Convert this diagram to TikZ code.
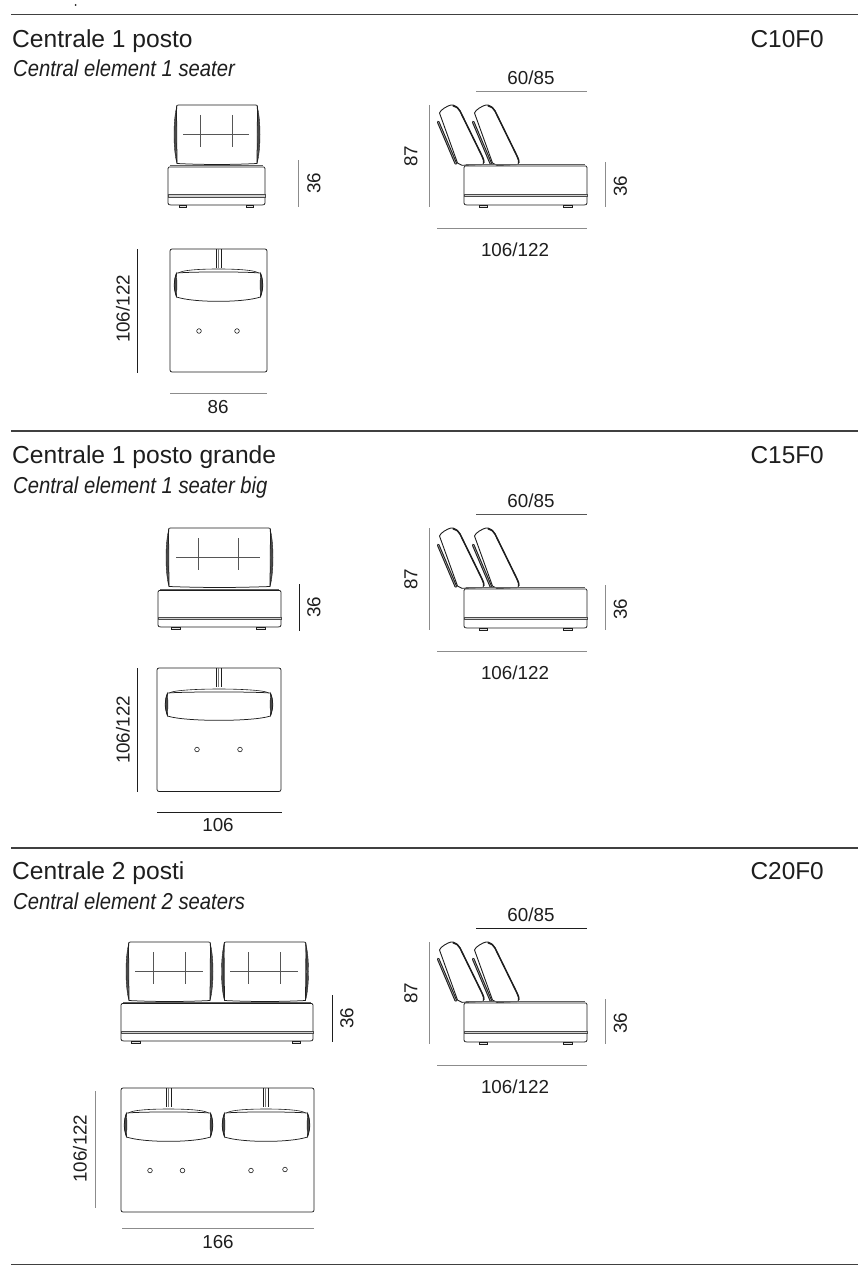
\documentclass[tikz,border=0pt]{standalone}
\usepackage{fontspec}
\setmainfont{Liberation Sans}
\definecolor{ink}{HTML}{1E1E1E}
\definecolor{dimlight}{HTML}{8C8C8C}
\definecolor{dimmid}{HTML}{555555}
\definecolor{lobe}{HTML}{4A4A4A}
\tikzset{
  outline/.style={draw=ink,line width=0.75pt,line join=round},
  thinline/.style={draw=ink,line width=0.45pt},
  tuftline/.style={draw=ink!75,line width=0.55pt},
  rule/.style={draw=ink!85,line width=1.3pt},
  dimline/.style={draw=dimlight,line width=0.7pt},
  dimdark/.style={draw=ink,line width=0.8pt},
  seatband/.style={draw=ink!80,line width=0.45pt,fill=black!18},
  lobefill/.style={draw=ink,line width=0.4pt,fill=lobe},
  num/.style={text=ink,inner sep=0pt,font=\fontsize{18.8}{22}\selectfont},
  numv/.style={num,rotate=90},
  title/.style={text=ink,inner sep=0pt,anchor=base west,font=\fontsize{24.6}{28}\selectfont},
  subtitle/.style={text=ink,inner sep=0pt,anchor=base west,xscale=0.88,font=\fontsize{23}{27}\itshape\selectfont},
  code/.style={text=ink,inner sep=0pt,anchor=base east,font=\fontsize{24.4}{28}\selectfont},
}
\newcommand\frontcushion[7]{%
  \begin{scope}[shift={(#1,#2)}]
    \path[lobefill] (2,0.8) .. controls (-2,14) and (-2,#4-14) .. (2,#4-0.5)
       .. controls (1,#4-14) and (1,14) .. cycle;
    \path[lobefill] (#3-2,0.8) .. controls (#3+2,14) and (#3+2,#4-14) .. (#3-2,#4-0.5)
       .. controls (#3-1,#4-14) and (#3-1,14) .. cycle;
    \draw[outline] (2,#4-0.5) -- (1.5,2) .. controls (1.5,0.5) and (2,0) .. (3.5,0)
       -- (#3-3.5,0) .. controls (#3-2,0) and (#3-1.5,0.5) .. (#3-1.5,2) -- (#3-2,#4-0.5)
       .. controls (#3/2+15,#4+0.8) and (#3/2-15,#4+0.8) .. cycle;
    \draw[tuftline] (#5,10) -- (#5,42) (#6,10) -- (#6,42)
       (#5-#7,29.5) -- (#6+#7,29.5);
  \end{scope}}
\newcommand\frontseat[5]{%
  \draw[outline] (#1+1,#3+1.5) -- (#2-1,#3+1.5) -- (#2,#3+3) -- (#2,#4-2) .. controls (#2,#4-0.5) and (#2-1,#4) .. (#2-3,#4)
     -- (#1+3,#4) .. controls (#1+1,#4) and (#1,#4-0.5) .. (#1,#4-2) -- (#1,#3+3) -- cycle;
  \path[seatband] (#1,#5) rectangle (#2,#5+2.6);
  \draw[thinline,draw=ink!70] (#1+2,#3) -- (#2-2,#3);}
\newcommand\seatfoot[3]{%
  \draw[thinline,fill=black!10] (#1,#3) rectangle (#2,#3+2.6);}
\newcommand\sideview[3]{%
  \begin{scope}[shift={(0,#1)}]
    \foreach \dx in {0,35}{
      \begin{scope}[shift={(\dx,0)}]
        \draw[draw=ink,line width=2.6pt,line cap=round] (438.2,122) -- (455.8,163.5);
        \draw[draw=white!70!black,line width=0.5pt,line cap=round] (438.2,122) -- (455.8,163.5);
        \path[draw=ink,fill=white,line width=0.9pt,line join=round] (439.5,113) .. controls (440,110) and (448,105.5) .. (451,105)
          .. controls (454,104.5) and (458,107) .. (460,111)
          -- (482,156) .. controls (484,160) and (484.5,163) .. (483,164.5)
          -- (462,165.3) -- (457.5,163) -- cycle;
        \draw[draw=ink,line width=1.5pt] (453,105.8) .. controls (456,106.2) and (458.5,108) .. (460,111) -- (482,156) .. controls (483.5,159) and (484,161) .. (483.8,163);
      \end{scope}}
    \frontseat{464}{587}{164.5}{205}{194}
    \seatfoot{479}{487.5}{205}
    \seatfoot{563}{572}{205}
    \draw[#2] (476,91) -- (587,91);
    \draw[dimline] (429,105) -- (429,207);
    \draw[dimline] (605.5,162) -- (605.5,207);
    \draw[dimline] (437,228) -- (587,228);
    \node[num] (#3w) at (531,77.5) {60/85};
    \node[numv] (#3h) at (411,156.5) {87};
    \node[numv] (#3s) at (620.5,186) {36};
    \node[num] (#3d) at (515,249.5) {106/122};
  \end{scope}}
\newcommand\topcushion[4]{%
  \begin{scope}[shift={(#1,#2)}]
    \draw[outline,line width=0.6pt] (4.5,4) .. controls (8,1) and (#3/2-18,0) .. (#3/2,0)
      .. controls (#3/2+18,0) and (#3-8,1) .. (#3-4.5,4);
    \path[lobefill] (2.5,4) .. controls (-0.5,12) and (-0.5,#4-14) .. (2.5,#4-5)
      .. controls (3,#4-14) and (3,12) .. cycle;
    \path[lobefill] (#3-2.5,4) .. controls (#3+0.5,12) and (#3+0.5,#4-14) .. (#3-2.5,#4-5)
      .. controls (#3-3,#4-14) and (#3-3,12) .. cycle;
    \draw[outline] (2.5,4) .. controls (20,2.6) and (#3-20,2.6) .. (#3-2.5,4)
      .. controls (#3+0.5,12) and (#3+0.5,#4-14) .. (#3-2.5,#4-5)
      .. controls (#3-20,#4+0.8) and (20,#4+0.8) .. (2.5,#4-5)
      .. controls (-0.5,#4-14) and (-0.5,12) .. cycle;
  \end{scope}}
\newcommand\strap[3]{%
  \draw[thinline,line width=0.6pt] (#1,#2) -- (#1,#3) (#1+5,#2) -- (#1+5,#3);
  \draw[thinline,line width=0.4pt,draw=ink!60] (#1+2,#2) -- (#1+2,#3);}
\newcommand\pin[2]{\draw[thinline,line width=0.6pt] (#1,#2) circle (2.3);}
\begin{document}
\begin{tikzpicture}[x=1pt,y=-1pt]
\useasboundingbox[fill=white] (0,0) rectangle (858,1279);
\draw[rule] (11,14.5) -- (858,14.5);
\draw[rule] (11,431) -- (858,431);
\draw[rule] (11,848) -- (858,848);
\draw[rule] (11,1264.5) -- (858,1264.5);
\fill[ink] (75.6,5) circle (1);
\node[title] (t1) at (12,47.5) {Centrale 1 posto};
\node[subtitle] (s1) at (13,77) {Central element 1 seater};
\node[code] (c1) at (824,47.5) {C10F0};
\node[title] (t2) at (12,463.5) {Centrale 1 posto grande};
\node[subtitle] (s2) at (13,493) {Central element 1 seater big};
\node[code] (c2) at (824,463.5) {C15F0};
\node[title] (t3) at (12,879.5) {Centrale 2 posti};
\node[subtitle] (s3) at (13,909) {Central element 2 seaters};
\node[code] (c3) at (824,879.5) {C20F0};
% section 1
\frontcushion{175}{105}{84}{59}{25}{57}{17}
\frontseat{168}{265}{165.5}{205}{194.5}
\seatfoot{179}{186}{205}
\seatfoot{246}{253}{205}
\draw[dimline] (298,160) -- (298,207);
\node[numv] (f1) at (314,183) {36};
\sideview{0}{dimline}{a}
\draw[outline,rounded corners=2pt] (170,249) rectangle (267,372);
\strap{216}{249}{268}
\topcushion{174}{269}{89}{33}
\pin{199}{331}\pin{237}{331}
\draw[dimdark] (137.5,249) -- (137.5,372.5);
\node[numv] (u1) at (123,309) {106/122};
\draw[dimline] (170,393) -- (267,393);
\node[num] (w1) at (218,407) {86};
% section 2
\frontcushion{167}{528}{105}{59}{31}{71}{22}
\frontseat{158}{281}{589}{627}{617}
\seatfoot{171}{180}{627}
\seatfoot{256}{265}{627}
\draw[dimdark] (299.5,584) -- (299.5,631);
\node[numv] (f2) at (314,607) {36};
\sideview{423}{dimmid}{b}
\draw[outline,rounded corners=2pt] (157,668) rectangle (281,791.5);
\strap{216}{668}{687}
\topcushion{165}{689}{108}{32}
\pin{197}{749.5}\pin{240}{749.5}
\draw[dimdark] (137.5,668) -- (137.5,792);
\node[numv] (u2) at (123,730) {106/122};
\draw[dimdark] (157,812) -- (282,812);
\node[num] (w2) at (218,825) {106};
% section 3
\frontcushion{127}{942}{85}{59}{26}{58}{18}
\frontcushion{222.5}{942}{85}{59}{25.5}{57.5}{18}
\frontseat{121}{313}{1002}{1041}{1031}
\seatfoot{131}{140}{1041}
\seatfoot{292}{300}{1041}
\draw[dimdark] (332,995) -- (332,1042);
\node[numv] (f3) at (347,1018) {36};
\sideview{837}{dimdark}{c}
\draw[outline,rounded corners=2pt] (121,1088) rectangle (314,1212);
\strap{166}{1088}{1107}
\strap{263}{1088}{1107}
\topcushion{124}{1109}{89}{33}
\topcushion{222}{1109}{88}{33}
\pin{150}{1170.5}\pin{182.5}{1170.5}\pin{251}{1170.5}\pin{285}{1169.5}
\draw[dimline] (95,1091) -- (95,1208);
\node[numv] (u3) at (80,1148.5) {106/122};
\draw[dimline] (122,1228) -- (314,1228);
\node[num] (w3) at (218,1242) {166};
\end{tikzpicture}
\end{document}
